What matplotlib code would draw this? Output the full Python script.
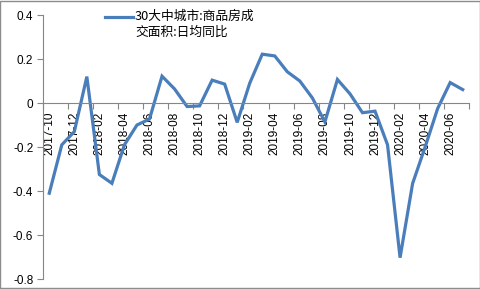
import matplotlib.pyplot as plt
from matplotlib.lines import Line2D
from matplotlib.patches import Rectangle

plt.rcParams['font.family'] = ['Liberation Sans', 'Noto Sans CJK SC', 'DejaVu Sans']

months = ["2017-10", "2017-11", "2017-12", "2018-01", "2018-02", "2018-03",
          "2018-04", "2018-05", "2018-06", "2018-07", "2018-08", "2018-09",
          "2018-10", "2018-11", "2018-12", "2019-01", "2019-02", "2019-03",
          "2019-04", "2019-05", "2019-06", "2019-07", "2019-08", "2019-09",
          "2019-10", "2019-11", "2019-12", "2020-01", "2020-02", "2020-03",
          "2020-04", "2020-05", "2020-06", "2020-07"]
values = [-0.41, -0.19, -0.13, 0.12, -0.325, -0.365,
          -0.19, -0.10, -0.073, 0.122, 0.064, -0.016,
          -0.013, 0.104, 0.086, -0.088, 0.09, 0.222,
          0.214, 0.142, 0.1, 0.023, -0.086, 0.107,
          0.042, -0.044, -0.037, -0.19, -0.703, -0.366,
          -0.2, -0.025, 0.093, 0.061]
yticks = [-0.8, -0.6, -0.4, -0.2, 0, 0.2, 0.4]
ytick_labels = ["-0.8", "-0.6", "-0.4", "-0.2", "0", "0.2", "0.4"]
series_name = "30大中城市:商品房成\n交面积:日均同比"

fig = plt.figure(figsize=(4.81, 2.89), dpi=100)
ax = fig.add_axes([0.0894, 0.0346, 0.8856, 0.9134])

x = list(range(len(months)))
ax.plot(x, values, color="#4a7ebb", lw=2.3, solid_joinstyle="miter")

ax.set_xlim(-0.5, len(months) - 0.5)
ax.set_ylim(-0.8, 0.4)

# y axis
ax.set_yticks(yticks)
ax.set_yticklabels(ytick_labels)
ax.tick_params(axis="y", length=4, width=0.8, color="#868686", pad=3,
               labelsize=8.5)

# x axis sits on zero; labels every 2 months, tick marks between categories
ax.spines["bottom"].set_position(("data", 0))
ax.spines["bottom"].set_color("#868686")
ax.spines["left"].set_color("#868686")
ax.spines["top"].set_visible(False)
ax.spines["right"].set_visible(False)
ax.set_xticks(x[::2])
ax.set_xticklabels(months[::2], rotation=90)
ax.set_xticks([i - 0.5 for i in x[::2]] + [len(months) - 0.5], minor=True)
ax.tick_params(axis="x", which="major", length=0, pad=6, labelsize=8.5)
ax.tick_params(axis="x", which="minor", length=4, width=0.8, color="#868686")

# legend
fig.add_artist(Line2D([105 / 481, 133 / 481], [1 - 17 / 289, 1 - 17 / 289],
                      color="#4a7ebb", lw=2.3))
fig.text(135 / 481, 1 - 10 / 289, series_name, fontsize=9.2, va="top",
         linespacing=1.25, transform=fig.transFigure,
         family=['Noto Sans CJK SC', 'DejaVu Sans'])

fig.add_artist(Rectangle((0.001, 0.002), 0.997, 0.995, transform=fig.transFigure,
                         fill=False, edgecolor="#8c8c8c", lw=1))

fig.savefig("out.png", dpi=100)
